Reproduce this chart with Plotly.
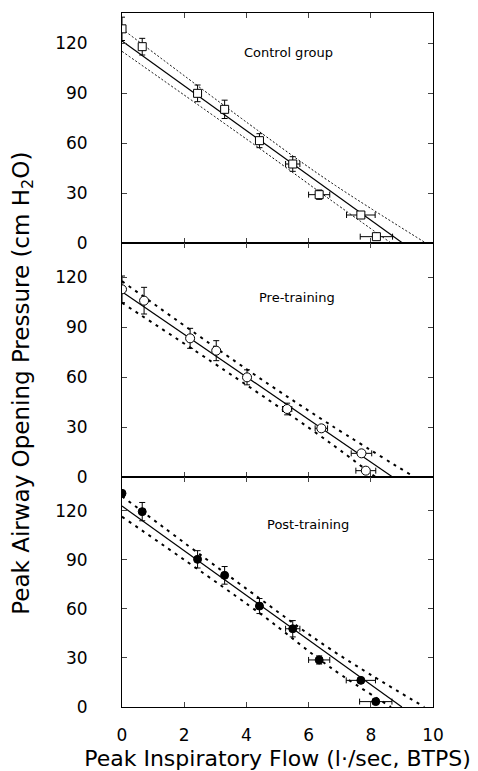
import plotly.graph_objects as go
from plotly.subplots import make_subplots

# ---------------- data ----------------
panel_names = ["Control group", "Pre-training", "Post-training"]

flow_ctrl = [0.0, 0.65, 2.43, 3.30, 4.42, 5.49, 6.34, 7.68, 8.18]
paop_ctrl = [128.5, 117.8, 89.8, 80.2, 61.4, 47.4, 29.0, 16.8, 3.8]
paop_err_ctrl = [7, 5, 5, 5.5, 4.2, 4.4, 2.8, 1.5, 1.5]
flow_err_ctrl = [0, 0, 0, 0, 0.1, 0.23, 0.34, 0.46, 0.52]

flow_pre = [0.0, 0.71, 2.19, 3.03, 4.02, 5.31, 6.41, 7.70, 7.84]
paop_pre = [112.6, 105.8, 83.2, 75.8, 59.8, 40.8, 29.2, 14.2, 3.8]
paop_err_pre = [8, 8, 6, 6, 4.5, 3.5, 1.5, 1.5, 1.5]
flow_err_pre = [0, 0, 0, 0, 0.05, 0.15, 0.2, 0.33, 0.32]

flow_post = [0.0, 0.65, 2.43, 3.30, 4.42, 5.49, 6.34, 7.68, 8.16]
paop_post = [130.8, 119.6, 90.4, 80.6, 61.8, 47.9, 28.8, 16.3, 3.3]
paop_err_post = [0, 5.6, 5.3, 5.4, 4.6, 5, 2.5, 1.5, 1.5]
flow_err_post = [0, 0, 0, 0, 0.1, 0.23, 0.34, 0.47, 0.52]

# regression lines and confidence bands
fit_ctrl_x, fit_ctrl_y = [0, 9.02], [121.2, 0]
up_ctrl_x, up_ctrl_y = [0, 4.42, 6.71, 9.77], [128.5, 66.8, 36.4, 0]
lo_ctrl_x, lo_ctrl_y = [0, 4.42, 6.71, 8.65], [115, 56.8, 25.8, 0]

fit_pre_x, fit_pre_y = [0, 8.70], [111.2, 0]
up_pre_x, up_pre_y = [0, 4.02, 6.71, 9.40], [117.5, 64.5, 31.2, 0]
lo_pre_x, lo_pre_y = [0, 4.02, 6.71, 8.15], [104.5, 55, 20.2, 0]

fit_post_x, fit_post_y = [0, 9.0], [123, 0]
up_post_x, up_post_y = [0, 4.42, 6.71, 9.72], [129, 66.5, 35.3, 0]
lo_post_x, lo_post_y = [0, 4.42, 6.71, 8.65], [116.5, 57.5, 24.1, 0]

x_ticks = [0, 2, 4, 6, 8, 10]
y_ticks = [0, 30, 60, 90, 120]

# ---------------- figure ----------------
FONT = "DejaVu Sans, Arial, sans-serif"
fig = make_subplots(rows=3, cols=1, shared_xaxes=True, vertical_spacing=0,
                    row_heights=[230, 234, 230])

panels = [
    dict(fx=flow_ctrl, fy=paop_ctrl, ey=paop_err_ctrl, ex=flow_err_ctrl,
         fit=(fit_ctrl_x, fit_ctrl_y), up=(up_ctrl_x, up_ctrl_y), lo=(lo_ctrl_x, lo_ctrl_y),
         symbol="square", fill="white", size=8, band=dict(width=1, dash="2px,2px"),
         yr=[0, 138], label=(5.35, 114.6)),
    dict(fx=flow_pre, fy=paop_pre, ey=paop_err_pre, ex=flow_err_pre,
         fit=(fit_pre_x, fit_pre_y), up=(up_pre_x, up_pre_y), lo=(lo_pre_x, lo_pre_y),
         symbol="circle", fill="white", size=9, band=dict(width=2, dash="3px,5px"),
         yr=[0, 140.4], label=(5.63, 108)),
    dict(fx=flow_post, fy=paop_post, ey=paop_err_post, ex=flow_err_post,
         fit=(fit_post_x, fit_post_y), up=(up_post_x, up_post_y), lo=(lo_post_x, lo_post_y),
         symbol="circle", fill="black", size=8, band=dict(width=2, dash="3px,5px"),
         yr=[0, 140.8], label=(5.98, 111.8)),
]

for i, p in enumerate(panels):
    r = i + 1
    for bx, by in (p["up"], p["lo"]):
        fig.add_trace(go.Scatter(x=bx, y=by, mode="lines", line_shape="spline",
                                 line=dict(color="black", **p["band"]),
                                 showlegend=False, hoverinfo="skip"), row=r, col=1)
    fig.add_trace(go.Scatter(x=p["fit"][0], y=p["fit"][1], mode="lines",
                             line=dict(color="black", width=1.2),
                             showlegend=False, hoverinfo="skip"), row=r, col=1)
    fig.add_trace(go.Scatter(
        x=p["fx"], y=p["fy"], mode="markers", name=panel_names[i], showlegend=False,
        marker=dict(symbol=p["symbol"], size=p["size"], color=p["fill"],
                    line=dict(color="black", width=1)),
        error_y=dict(type="data", array=p["ey"], visible=True, color="black",
                     thickness=1, width=3),
        error_x=dict(type="data", array=p["ex"], visible=True, color="black",
                     thickness=1, width=3),
    ), row=r, col=1)
    fig.add_annotation(x=p["label"][0], y=p["label"][1], text=panel_names[i],
                       showarrow=False, font=dict(family=FONT, size=13, color="black"),
                       row=r, col=1)
    fig.update_yaxes(range=p["yr"], tickvals=y_ticks, ticks="inside", ticklen=5,
                     showline=True, linecolor="black", linewidth=1, mirror="ticks",
                     showgrid=False, zeroline=False, ticklabelstandoff=30,
                     automargin=False,
                     tickfont=dict(family=FONT, size=17, color="black"), row=r, col=1)
    fig.update_xaxes(range=[0, 10], tickvals=x_ticks, ticks="inside", ticklen=5,
                     showline=True, linecolor="black", linewidth=1, mirror="ticks",
                     showgrid=False, zeroline=False, automargin=False, row=r, col=1)

fig.update_xaxes(showticklabels=True, ticklabelstandoff=13,
                 tickfont=dict(family=FONT, size=17, color="black"),
                 title=dict(text="Peak Inspiratory Flow (l·/sec, BTPS)",
                            font=dict(family=FONT, size=22, color="black"), standoff=6),
                 row=3, col=1)

fig.add_annotation(text="Peak Airway Opening Pressure (cm H<sub>2</sub>O)",
                   xref="paper", yref="paper", x=-0.321, y=0.466, textangle=-90,
                   xanchor="center", yanchor="middle",
                   showarrow=False, font=dict(family=FONT, size=23, color="black"))

fig.update_layout(width=478, height=771, margin=dict(l=122, r=45, t=13, b=64),
                  plot_bgcolor="white", paper_bgcolor="white", showlegend=False)

fig.write_html("out.html", config={"displayModeBar": False},
               post_script="document.body.style.margin='0';"
                           "document.body.style.overflow='hidden';")
